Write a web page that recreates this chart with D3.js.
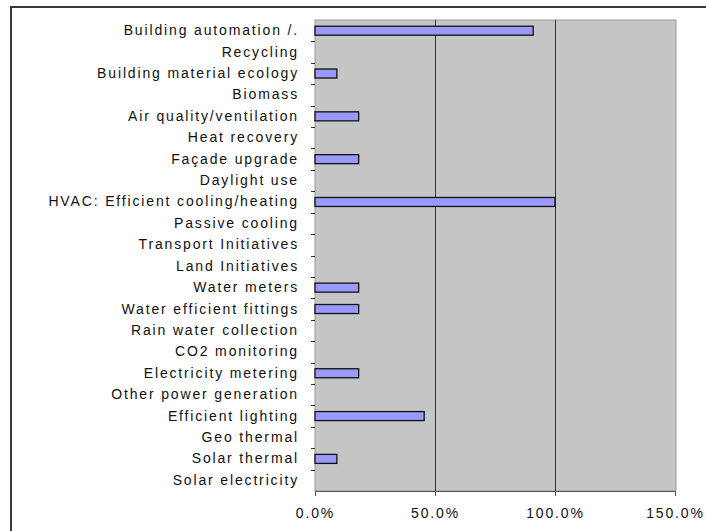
<!DOCTYPE html>
<html>
<head>
<meta charset="utf-8">
<script src="https://cdn.jsdelivr.net/npm/d3@7"></script>
<style>
  html, body { margin: 0; padding: 0; background: #fff; }
  svg { display: block; }
  text { font-family: "Liberation Sans", Arial, sans-serif; fill: #111; }
</style>
</head>
<body>
<svg id="chart" width="706" height="531"></svg>
<script>
// Measures, listed top to bottom
const categories = [
  "Building automation /.",
  "Recycling",
  "Building material ecology",
  "Biomass",
  "Air quality/ventilation",
  "Heat recovery",
  "Façade upgrade",
  "Daylight use",
  "HVAC: Efficient cooling/heating",
  "Passive cooling",
  "Transport Initiatives",
  "Land Initiatives",
  "Water meters",
  "Water efficient fittings",
  "Rain water collection",
  "CO2 monitoring",
  "Electricity metering",
  "Other power generation",
  "Efficient lighting",
  "Geo thermal",
  "Solar thermal",
  "Solar electricity"
];

// Share of buildings applying each measure
const shares = [
  0.909, 0, 0.091, 0, 0.182, 0, 0.182, 0, 1.0, 0, 0, 0,
  0.182, 0.182, 0, 0, 0.182, 0, 0.455, 0, 0.091, 0
];

const xTicks = [0, 0.5, 1.0, 1.5];

const svg = d3.select("#chart");
const plot = { left: 315, right: 676, top: 20, bottom: 491 };
const labelFont = { size: 14, spacing: 1.85 };

// Outer chart frame
svg.append("rect")
  .attr("x", 11).attr("y", 7)
  .attr("width", 720).attr("height", 540)
  .attr("fill", "#fff")
  .attr("stroke", "#3a3a3a")
  .attr("stroke-width", 2);

const x = d3.scaleLinear().domain([0, 1.5]).range([plot.left, plot.right - 1]);
const y = d3.scaleBand().domain(categories)
  .range([plot.top, plot.bottom]).paddingInner(0.58).paddingOuter(0.29);
const band = d3.scaleBand().domain(categories).range([plot.top, plot.bottom]);

// Plot area
svg.append("rect")
  .attr("x", plot.left).attr("y", plot.top)
  .attr("width", plot.right - plot.left).attr("height", plot.bottom - plot.top)
  .attr("fill", "#c5c5c5")
  .attr("stroke", "#9a9a9a")
  .attr("stroke-width", 1);

// Vertical gridlines
svg.append("g")
  .selectAll("line")
  .data(xTicks.slice(1, -1))
  .join("line")
  .attr("x1", d => Math.round(x(d)) + 0.5).attr("x2", d => Math.round(x(d)) + 0.5)
  .attr("y1", plot.top).attr("y2", plot.bottom)
  .attr("stroke", "#333").attr("stroke-width", 1);

// Bars
svg.append("g")
  .selectAll("rect")
  .data(categories.map((c, i) => ({ c, v: shares[i] })).filter(d => d.v > 0))
  .join("rect")
  .attr("x", x(0))
  .attr("y", d => y(d.c))
  .attr("width", d => x(d.v) - x(0))
  .attr("height", y.bandwidth())
  .attr("fill", "#9999ff")
  .attr("stroke", "#111")
  .attr("stroke-width", 1.3);

// Category axis
const yAxis = d3.axisLeft(band).tickSize(0).tickPadding(16);
const gy = svg.append("g").attr("transform", `translate(${plot.left},0)`).call(yAxis);
gy.select(".domain").remove();
gy.selectAll("text")
  .attr("font-size", labelFont.size)
  .attr("letter-spacing", labelFont.spacing)
  .attr("font-family", "\"Liberation Sans\", Arial, sans-serif")
  .attr("fill", "#111");

// Category boundary tick marks
svg.append("g")
  .selectAll("line")
  .data(categories.slice(1))
  .join("line")
  .attr("x1", plot.left - 4).attr("x2", plot.left)
  .attr("y1", d => Math.round(band(d)) + 0.5).attr("y2", d => Math.round(band(d)) + 0.5)
  .attr("stroke", "#333").attr("stroke-width", 1);

// Value axis
const xAxis = d3.axisBottom(x).tickValues(xTicks)
  .tickFormat(d3.format(".1%")).tickSize(5).tickPadding(12);
const gx = svg.append("g").attr("transform", `translate(0,${plot.bottom})`).call(xAxis);
gx.select(".domain").attr("stroke", "#555");
gx.selectAll(".tick line").attr("stroke", "#555");
gx.selectAll("text")
  .attr("font-size", labelFont.size)
  .attr("letter-spacing", labelFont.spacing)
  .attr("font-family", "\"Liberation Sans\", Arial, sans-serif")
  .attr("fill", "#111");
</script>
</body>
</html>
